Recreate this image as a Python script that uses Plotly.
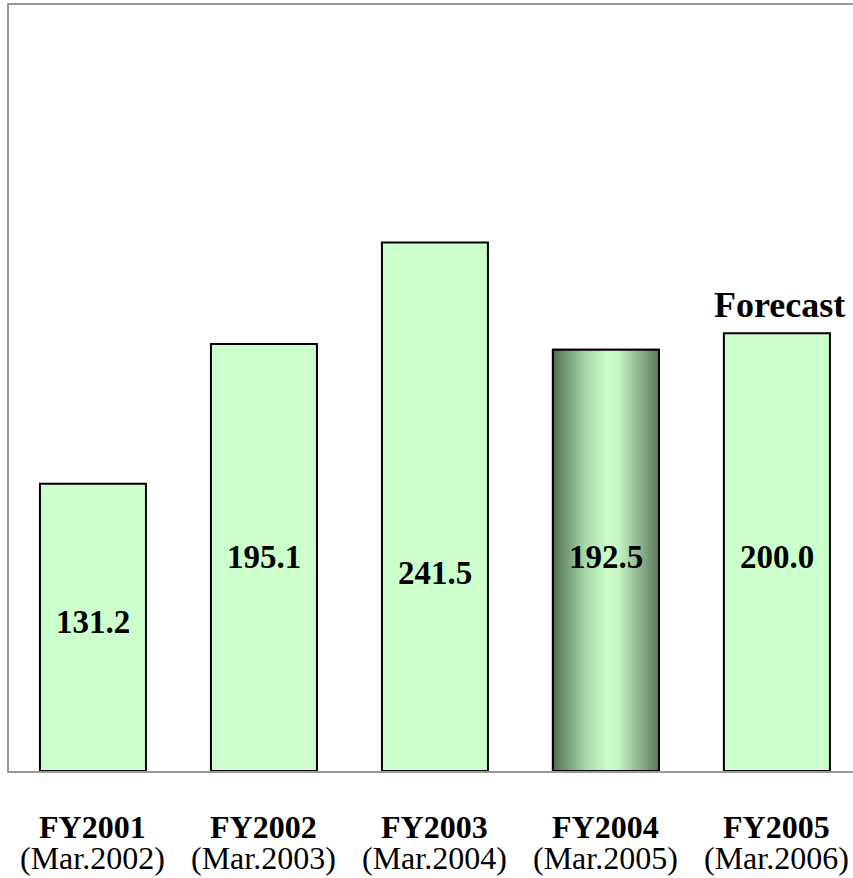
import plotly.graph_objects as go

categories = ["FY2001", "FY2002", "FY2003", "FY2004", "FY2005"]
sublabels = ["(Mar.2002)", "(Mar.2003)", "(Mar.2004)", "(Mar.2005)", "(Mar.2006)"]
values = [131.2, 195.1, 241.5, 192.5, 200.0]
label_text = ["131.2", "195.1", "241.5", "192.5", "200.0"]
label_y = [68, 98, 90.5, 98, 98]
highlight_index = 3
forecast_index = 4

FONT = "Liberation Serif, Times New Roman, serif"
BAR_W = 0.62

xs = list(range(len(categories)))
fig = go.Figure()
fig.add_trace(go.Bar(
    x=xs, y=values, width=BAR_W,
    marker=dict(color="#ccffcc", line=dict(color="black", width=2)),
    hoverinfo="skip",
))

# gradient (cylinder-like) shading for the highlighted bar
hx = xs[highlight_index]
hv = values[highlight_index]
fig.add_trace(go.Scatter(
    x=[hx - BAR_W / 2, hx + BAR_W / 2, hx + BAR_W / 2, hx - BAR_W / 2, hx - BAR_W / 2],
    y=[0, 0, hv, hv, 0],
    mode="lines", fill="toself",
    line=dict(color="black", width=2),
    fillgradient=dict(type="horizontal", colorscale=[
        [0, "#4f6e4f"], [0.3, "#a6d6a6"], [0.52, "#ccffcc"],
        [0.62, "#c4f4c4"], [0.85, "#86aa86"], [1, "#5a7a5a"]]),
    hoverinfo="skip",
))

annotations = []
for i in xs:
    annotations.append(dict(x=i, y=label_y[i], text="<b>" + label_text[i] + "</b>",
                            showarrow=False, font=dict(family=FONT, size=33, color="black"),
                            xanchor="center", yanchor="middle"))
    annotations.append(dict(x=i, y=0, text="<b>" + categories[i] + "</b>",
                            showarrow=False, font=dict(family=FONT, size=32, color="black"),
                            xanchor="center", yanchor="middle", yshift=-56))
    annotations.append(dict(x=i, y=0, text=sublabels[i],
                            showarrow=False, font=dict(family=FONT, size=32, color="black"),
                            xanchor="center", yanchor="middle", yshift=-87))
annotations.append(dict(x=xs[forecast_index], y=values[forecast_index], text="<b>Forecast</b>",
                        showarrow=False, font=dict(family=FONT, size=36, color="black"),
                        xanchor="center", yanchor="middle", xshift=3, yshift=28))

fig.update_layout(
    width=853, height=878,
    margin=dict(l=9, r=0, t=5, b=107),
    plot_bgcolor="white", paper_bgcolor="white",
    showlegend=False,
    annotations=annotations,
    xaxis=dict(range=[-0.491, 4.445], showticklabels=False, showgrid=False, zeroline=False,
               showline=True, linecolor="#999999", linewidth=2, mirror=True, ticks=""),
    yaxis=dict(range=[0, 350], showticklabels=False, showgrid=False, zeroline=False,
               showline=True, linecolor="#999999", linewidth=2, ticks=""),
)

fig.write_html("out.html")
